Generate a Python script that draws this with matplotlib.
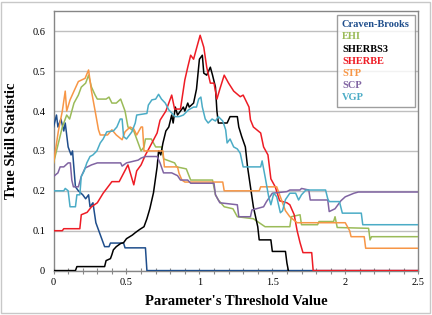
import matplotlib
matplotlib.use('Agg')
import matplotlib.pyplot as plt
from matplotlib.patches import Rectangle
from matplotlib.ticker import MultipleLocator

# Series, as (threshold, TSS) pairs
craven_brooks = [(0, 0.36), (0.02, 0.39), (0.03, 0.36), (0.05, 0.38), (0.07, 0.35), (0.08, 0.37),
                 (0.1, 0.31), (0.12, 0.29), (0.13, 0.30), (0.15, 0.21), (0.17, 0.20), (0.2, 0.19),
                 (0.22, 0.18), (0.24, 0.19), (0.25, 0.16), (0.27, 0.17), (0.29, 0.12), (0.31, 0.10),
                 (0.33, 0.08), (0.35, 0.06), (0.38, 0.06), (0.39, 0.069), (0.48, 0.069),
                 (0.49, 0.057), (0.63, 0.057), (0.64, 0), (2.5, 0)]

ehi = [(0, 0.27), (0.02, 0.30), (0.04, 0.33), (0.06, 0.36), (0.09, 0.39), (0.11, 0.38),
       (0.14, 0.42), (0.17, 0.44), (0.19, 0.46), (0.22, 0.47), (0.24, 0.49), (0.26, 0.46),
       (0.285, 0.44), (0.3, 0.43), (0.36, 0.43), (0.38, 0.435), (0.4, 0.42), (0.43, 0.42),
       (0.46, 0.43), (0.49, 0.40), (0.51, 0.36), (0.55, 0.35), (0.58, 0.32), (0.6, 0.30),
       (0.62, 0.31), (0.63, 0.33), (0.67, 0.33), (0.7, 0.31), (0.74, 0.31), (0.755, 0.28),
       (0.83, 0.27), (0.845, 0.26), (0.91, 0.255), (0.94, 0.227), (1.09, 0.227), (1.11, 0.19),
       (1.13, 0.177), (1.17, 0.16), (1.23, 0.155), (1.26, 0.135), (1.37, 0.13), (1.45, 0.11),
       (1.62, 0.11), (1.63, 0.135), (1.69, 0.14), (1.70, 0.115), (1.81, 0.115), (1.82, 0.123),
       (1.92, 0.123), (1.93, 0.135), (1.945, 0.108), (2.16, 0.106), (2.17, 0.077),
       (2.18, 0.085), (2.5, 0.085)]

sherbs3 = [(0, 0), (0.15, 0), (0.16, 0.01), (0.35, 0.01), (0.36, 0.025), (0.39, 0.03),
           (0.4, 0.04), (0.41, 0.052), (0.43, 0.06), (0.46, 0.068), (0.48, 0.07), (0.5, 0.08),
           (0.54, 0.089), (0.56, 0.095), (0.59, 0.103), (0.62, 0.11), (0.64, 0.13), (0.66, 0.155),
           (0.685, 0.195), (0.71, 0.26), (0.72, 0.30), (0.735, 0.29), (0.75, 0.32), (0.77, 0.35),
           (0.79, 0.36), (0.81, 0.39), (0.82, 0.37), (0.835, 0.41), (0.85, 0.39), (0.87, 0.40),
           (0.89, 0.41), (0.9, 0.40), (0.92, 0.42), (0.93, 0.41), (0.96, 0.42), (0.98, 0.455),
           (1.0, 0.53), (1.02, 0.54), (1.03, 0.495), (1.05, 0.49), (1.075, 0.51), (1.09, 0.49),
           (1.11, 0.46), (1.12, 0.40), (1.13, 0.37), (1.19, 0.37), (1.21, 0.386), (1.26, 0.386),
           (1.27, 0.36), (1.29, 0.336), (1.315, 0.31), (1.33, 0.26), (1.35, 0.21), (1.37, 0.16),
           (1.4, 0.11), (1.41, 0.077), (1.49, 0.077), (1.5, 0.048), (1.59, 0.048), (1.6, 0.019),
           (1.61, 0)]

sherbe = [(0, 0.1), (0.06, 0.1), (0.07, 0.105), (0.18, 0.105), (0.19, 0.14), (0.23, 0.146),
          (0.26, 0.16), (0.3, 0.17), (0.34, 0.194), (0.365, 0.206), (0.4, 0.223), (0.45, 0.223),
          (0.48, 0.244), (0.51, 0.265), (0.53, 0.24), (0.55, 0.215), (0.57, 0.25), (0.6, 0.265),
          (0.63, 0.29), (0.66, 0.31), (0.71, 0.345), (0.73, 0.377), (0.77, 0.40), (0.81, 0.44),
          (0.83, 0.405), (0.87, 0.405), (0.9, 0.478), (0.92, 0.51), (0.94, 0.54), (0.96, 0.53),
          (0.98, 0.557), (1.005, 0.59), (1.03, 0.56), (1.05, 0.51), (1.075, 0.47), (1.1, 0.47),
          (1.12, 0.43), (1.14, 0.455), (1.17, 0.49), (1.2, 0.47), (1.235, 0.45), (1.28, 0.436),
          (1.3, 0.44), (1.34, 0.41), (1.35, 0.378), (1.37, 0.36), (1.42, 0.345), (1.44, 0.31),
          (1.47, 0.29), (1.49, 0.23), (1.52, 0.21), (1.55, 0.175), (1.6, 0.17), (1.62, 0.165),
          (1.65, 0.14), (1.67, 0.1), (1.69, 0.07), (1.71, 0.045), (1.77, 0.045), (1.78, 0),
          (2.5, 0)]

stp = [(0, 0.27), (0.033, 0.35), (0.06, 0.40), (0.08, 0.45), (0.09, 0.40), (0.113, 0.428),
       (0.14, 0.45), (0.17, 0.474), (0.216, 0.482), (0.24, 0.503), (0.26, 0.45), (0.285, 0.40),
       (0.308, 0.353), (0.32, 0.34), (0.37, 0.34), (0.4, 0.353), (0.43, 0.34), (0.47, 0.328),
       (0.49, 0.348), (0.525, 0.36), (0.55, 0.355), (0.57, 0.34), (0.6, 0.36), (0.61, 0.36),
       (0.62, 0.30), (0.75, 0.30), (0.76, 0.26), (0.85, 0.26), (0.86, 0.244), (0.88, 0.227),
       (0.9, 0.222), (1.16, 0.222), (1.17, 0.2), (1.41, 0.2), (1.42, 0.21), (1.53, 0.21),
       (1.55, 0.19), (1.59, 0.15), (1.62, 0.135), (1.67, 0.12), (2.0, 0.12), (2.03, 0.1),
       (2.04, 0.085), (2.13, 0.085), (2.14, 0.056), (2.5, 0.056)]

scp = [(0, 0.236), (0.03, 0.245), (0.045, 0.26), (0.07, 0.26), (0.1, 0.27), (0.115, 0.27),
       (0.125, 0.227), (0.136, 0.21), (0.17, 0.21), (0.19, 0.236), (0.216, 0.257), (0.26, 0.265),
       (0.3, 0.27), (0.46, 0.27), (0.47, 0.262), (0.5, 0.27), (0.58, 0.277), (0.6, 0.282),
       (0.63, 0.286), (0.71, 0.286), (0.73, 0.27), (0.754, 0.245), (0.81, 0.245), (0.85, 0.238),
       (0.87, 0.227), (0.92, 0.227), (0.94, 0.219), (1.1, 0.219), (1.11, 0.19), (1.14, 0.17),
       (1.26, 0.165), (1.27, 0.135), (1.35, 0.135), (1.36, 0.152), (1.44, 0.16), (1.46, 0.173),
       (1.5, 0.194), (1.6, 0.198), (1.62, 0.202), (1.69, 0.202), (1.7, 0.206), (1.75, 0.202),
       (1.76, 0.177), (1.88, 0.177), (1.89, 0.148), (1.93, 0.155), (1.95, 0.165), (1.97, 0.175),
       (2.0, 0.185), (2.06, 0.194), (2.09, 0.197), (2.5, 0.197)]

vgp = [(0, 0.2), (0.07, 0.2), (0.08, 0.206), (0.1, 0.2), (0.113, 0.16), (0.15, 0.16),
       (0.16, 0.19), (0.18, 0.19), (0.19, 0.236), (0.21, 0.25), (0.228, 0.27), (0.25, 0.286),
       (0.27, 0.29), (0.297, 0.30), (0.32, 0.32), (0.34, 0.33), (0.365, 0.348), (0.41, 0.35),
       (0.434, 0.36), (0.457, 0.38), (0.47, 0.38), (0.48, 0.336), (0.5, 0.33), (0.537, 0.348),
       (0.56, 0.37), (0.57, 0.39), (0.64, 0.394), (0.65, 0.415), (0.674, 0.428), (0.7, 0.43),
       (0.72, 0.442), (0.74, 0.43), (0.766, 0.42), (0.79, 0.403), (0.834, 0.386), (0.86, 0.386),
       (0.89, 0.39), (0.925, 0.403), (0.96, 0.41), (0.98, 0.41), (0.995, 0.43), (1.01, 0.435),
       (1.02, 0.41), (1.04, 0.38), (1.06, 0.37), (1.087, 0.38), (1.11, 0.375), (1.13, 0.386),
       (1.16, 0.375), (1.18, 0.353), (1.19, 0.32), (1.21, 0.33), (1.235, 0.31), (1.26, 0.305),
       (1.28, 0.294), (1.29, 0.277), (1.3, 0.26), (1.42, 0.26), (1.43, 0.275), (1.45, 0.236),
       (1.475, 0.185), (1.49, 0.165), (1.51, 0.194), (1.53, 0.185), (1.555, 0.145), (1.57, 0.15),
       (1.59, 0.178), (1.62, 0.194), (1.66, 0.194), (1.68, 0.177), (1.7, 0.19), (1.73, 0.202),
       (1.865, 0.202), (1.88, 0.18), (1.89, 0.173), (1.96, 0.173), (1.98, 0.144), (2.11, 0.144),
       (2.12, 0.115), (2.5, 0.115)]

series_names = ['Craven-Brooks', 'EHI', 'SHERBS3', 'SHERBE', 'STP', 'SCP', 'VGP']
series_data = [craven_brooks, ehi, sherbs3, sherbe, stp, scp, vgp]
series_colors = ['#1f4e8c', '#9bbb59', '#000000', '#ee1c25', '#f79646', '#8064a2', '#4bacc6']

x_ticks = [0, 0.5, 1, 1.5, 2, 2.5]
y_ticks = [0, 0.1, 0.2, 0.3, 0.4, 0.5, 0.6]

plt.rcParams['font.family'] = ['Liberation Serif', 'DejaVu Serif']

fig = plt.figure(figsize=(4.32, 3.15), dpi=100)
ax = fig.add_axes([0.124, 0.141, 0.844, 0.823])

# outer border of the picture
fig.patches.append(Rectangle((0.003, 0.006), 0.993, 0.987, transform=fig.transFigure,
                             fill=False, edgecolor='#c8c8c8', linewidth=1))

for name, pts, col in zip(series_names, series_data, series_colors):
    xs = [p[0] for p in pts]
    ys = [p[1] for p in pts]
    ax.plot(xs, ys, color=col, linewidth=1.1, label=name, zorder=3)

ax.set_xlim(0, 2.5)
ax.set_ylim(0, 0.65)
ax.set_xticks(x_ticks)
ax.set_xticklabels(['0', '0.5', '1', '1.5', '2', '2.5'])
ax.set_yticks(y_ticks)
ax.set_yticklabels(['0', '0.1', '0.2', '0.3', '0.4', '0.5', '0.6'])
ax.xaxis.set_minor_locator(MultipleLocator(0.1))
ax.tick_params(axis='x', which='both', direction='inout', length=4, width=0.8,
               color='#888888', labelsize=7.5, pad=3)
ax.tick_params(axis='y', length=0, labelsize=7.5, pad=6)
ax.grid(axis='y', color='#bfbfbf', linewidth=1, zorder=0)
ax.set_axisbelow(True)
for s in ax.spines.values():
    s.set_color('#868686')
    s.set_linewidth(1)

ax.set_xlabel("Parameter's Threshold Value", fontsize=10.5, fontweight='bold', labelpad=6)
ax.set_ylabel('True Skill Statistic', fontsize=10.5, fontweight='bold', labelpad=10)

leg = ax.legend(loc='upper right', bbox_to_anchor=(0.99, 0.985), borderaxespad=0,
                handlelength=0, handletextpad=0, frameon=True, fancybox=False,
                labelspacing=0.28, borderpad=0.45,
                prop={'family': 'Liberation Serif', 'weight': 'bold', 'size': 7.5})
leg.get_frame().set_edgecolor('#868686')
leg.get_frame().set_linewidth(1)
for txt, col in zip(leg.get_texts(), series_colors):
    txt.set_color(col)
for h in leg.legend_handles:
    h.set_visible(False)

fig.savefig('out.png', dpi=100)
